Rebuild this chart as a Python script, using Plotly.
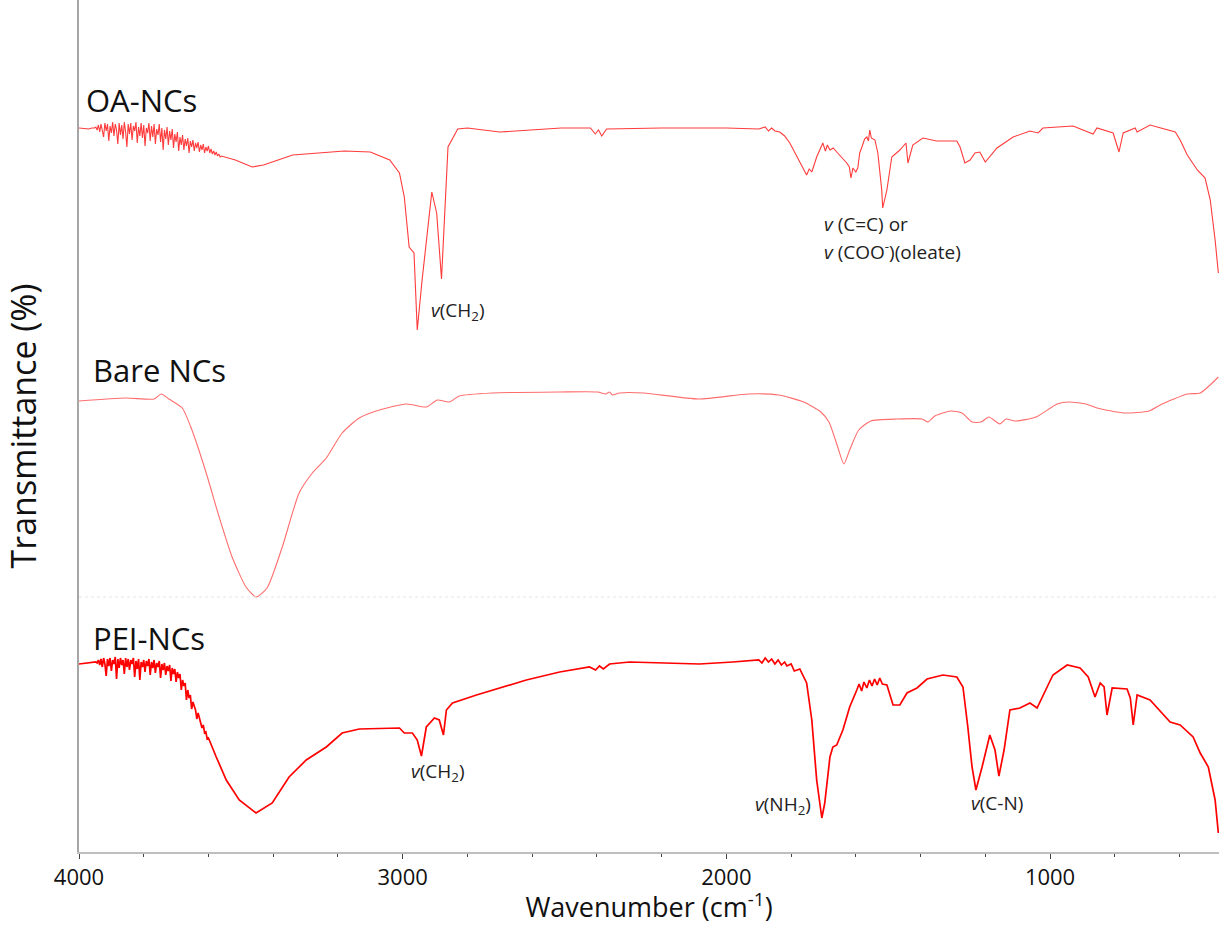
import plotly.graph_objects as go

# ---------------- data: (wavenumber cm-1, transmittance in offset arbitrary units) -------------
oa_points = [
    (4000, 722), (3970, 721), (3960, 722),
    (3952, 722), (3948, 723), (3944, 720), (3940, 725), (3936, 718), (3932, 726), (3928, 721),
    (3924, 713), (3920, 727), (3916, 719), (3912, 726), (3908, 709), (3904, 724), (3900, 717),
    (3896, 728), (3892, 714), (3888, 726), (3884, 720), (3880, 706), (3876, 727), (3872, 715),
    (3868, 725), (3864, 711), (3860, 728), (3856, 718), (3852, 703), (3848, 726), (3844, 716),
    (3840, 727), (3836, 710), (3832, 724), (3828, 719), (3824, 728), (3820, 707), (3816, 723),
    (3812, 714), (3808, 727), (3804, 712), (3800, 725), (3796, 704), (3792, 722), (3788, 717),
    (3784, 727), (3780, 709), (3776, 724), (3772, 713), (3768, 726), (3764, 706), (3760, 721),
    (3756, 715), (3752, 726), (3748, 708), (3744, 722), (3740, 700), (3736, 720), (3732, 711),
    (3728, 723), (3724, 705), (3720, 719), (3716, 710), (3712, 721), (3708, 702), (3704, 716),
    (3700, 708), (3696, 718), (3692, 699), (3688, 713), (3684, 705), (3680, 715), (3676, 700),
    (3672, 711), (3668, 704), (3664, 712), (3660, 697), (3656, 709), (3652, 703), (3648, 710),
    (3644, 699), (3640, 707), (3636, 702), (3632, 708), (3628, 698), (3624, 705), (3620, 700),
    (3616, 706), (3612, 697), (3608, 703), (3604, 699), (3600, 704), (3596, 697), (3592, 701),
    (3588, 696), (3584, 699), (3580, 695), (3576, 698), (3572, 694), (3568, 696), (3564, 693),
    (3560, 694), (3517, 690), (3465, 683), (3430, 685), (3340, 695), (3250, 697), (3180, 699),
    (3100, 698), (3040, 690), (3010, 677), (2995, 653), (2980, 603), (2965, 597), (2955, 520),
    (2940, 570), (2910, 658), (2895, 637), (2880, 571), (2870, 637), (2860, 703), (2830, 721),
    (2800, 722), (2700, 718), (2610, 720), (2510, 722), (2420, 722), (2405, 716), (2395, 720),
    (2385, 714), (2370, 721), (2200, 722), (2000, 722), (1900, 721), (1880, 723), (1870, 719),
    (1860, 722), (1850, 719), (1835, 718), (1820, 714), (1804, 707), (1782, 693), (1767, 683),
    (1752, 675), (1744, 681), (1736, 678), (1721, 693), (1710, 701), (1702, 707), (1694, 699),
    (1688, 705), (1680, 700), (1670, 702), (1659, 698), (1645, 693), (1628, 687), (1620, 683),
    (1615, 672), (1609, 682), (1600, 678), (1594, 682), (1588, 697), (1580, 704), (1573, 711),
    (1566, 713), (1561, 709), (1557, 720), (1552, 712), (1541, 710), (1532, 697), (1520, 660),
    (1517, 642), (1504, 660), (1489, 693), (1464, 700), (1445, 707), (1439, 687), (1424, 705),
    (1393, 712), (1350, 709), (1288, 709), (1278, 703), (1263, 687), (1247, 690), (1232, 697),
    (1217, 698), (1200, 688), (1164, 702), (1114, 713), (1062, 719), (1037, 717), (1022, 722),
    (929, 724), (898, 720), (867, 716), (855, 722), (805, 717), (787, 698), (774, 717),
    (737, 722), (731, 718), (691, 725), (670, 723), (613, 718), (598, 710), (576, 695),
    (545, 680), (521, 672), (505, 650), (490, 610), (480, 577),
]

bare_points = [
    (4000, 449), (3855, 452), (3768, 451), (3746, 456), (3722, 451), (3681, 442), (3651, 420),
    (3607, 377), (3567, 333), (3527, 293), (3484, 263), (3453, 253), (3419, 262), (3372, 303),
    (3320, 357), (3279, 377), (3236, 392), (3187, 417), (3134, 432), (3072, 440), (2989, 446),
    (2927, 443), (2893, 450), (2856, 448), (2825, 454), (2723, 457), (2515, 458), (2398, 458),
    (2373, 456), (2361, 458), (2352, 455), (2330, 457), (2256, 457), (2086, 451), (1931, 456),
    (1838, 455), (1761, 448), (1708, 438), (1683, 428), (1656, 403), (1637, 386), (1619, 400),
    (1591, 420), (1554, 429), (1473, 431), (1396, 431), (1377, 428), (1356, 434), (1306, 439),
    (1272, 437), (1241, 428), (1213, 428), (1189, 433), (1155, 426), (1136, 431), (1108, 429),
    (1043, 433), (978, 446), (941, 448), (889, 446), (855, 442), (771, 437), (694, 439),
    (654, 446), (576, 456), (536, 457), (480, 473),
]

pei_points = [
    (4000, 186), (3960, 188), (3948, 188),
    (3944, 187), (3940, 190), (3936, 185), (3932, 191), (3928, 183), (3924, 192), (3920, 186),
    (3916, 174), (3912, 191), (3908, 184), (3904, 192), (3900, 179), (3896, 190), (3892, 186),
    (3888, 193), (3884, 171), (3880, 191), (3876, 182), (3872, 192), (3868, 185), (3864, 190),
    (3860, 176), (3856, 192), (3852, 183), (3848, 191), (3844, 180), (3840, 190), (3836, 186),
    (3832, 192), (3828, 173), (3824, 189), (3820, 181), (3816, 191), (3812, 170), (3808, 188),
    (3804, 183), (3800, 190), (3796, 178), (3792, 189), (3788, 184), (3784, 191), (3780, 175),
    (3776, 188), (3772, 182), (3768, 190), (3764, 177), (3760, 187), (3756, 183), (3752, 189),
    (3748, 172), (3744, 186), (3740, 180), (3736, 187), (3732, 175), (3728, 184), (3724, 179),
    (3720, 185), (3716, 169), (3712, 182), (3708, 176), (3704, 181), (3700, 168), (3696, 178),
    (3692, 172), (3688, 176), (3684, 160), (3680, 170), (3676, 164), (3672, 167), (3668, 150),
    (3664, 160), (3660, 152), (3656, 155), (3652, 141), (3648, 148), (3644, 143), (3640, 140),
    (3636, 131), (3632, 137), (3628, 132), (3624, 128), (3620, 122), (3616, 125), (3612, 117),
    (3608, 118), (3604, 111), (3600, 112), (3592, 105), (3576, 93), (3545, 70), (3505, 50),
    (3453, 37), (3403, 47), (3351, 73), (3298, 90), (3236, 103), (3187, 117), (3134, 121),
    (3010, 122), (2995, 117), (2970, 117), (2955, 110), (2942, 94), (2927, 123), (2902, 132),
    (2887, 130), (2874, 115), (2865, 140), (2846, 147), (2772, 155), (2618, 170), (2515, 178),
    (2423, 183), (2404, 180), (2392, 184), (2380, 181), (2361, 186), (2299, 188), (2083, 186),
    (1980, 188), (1900, 190), (1890, 187), (1880, 192), (1870, 188), (1860, 191), (1850, 186),
    (1840, 190), (1830, 185), (1820, 188), (1813, 184), (1800, 186), (1790, 179), (1773, 181),
    (1752, 167), (1736, 130), (1721, 70), (1705, 32), (1696, 47), (1680, 93), (1671, 103),
    (1659, 105), (1640, 120), (1619, 143), (1597, 160), (1590, 166), (1582, 159), (1575, 168),
    (1566, 162), (1558, 170), (1550, 164), (1542, 171), (1534, 165), (1526, 172), (1518, 166),
    (1504, 165), (1485, 145), (1464, 145), (1442, 157), (1411, 162), (1380, 171), (1331, 175),
    (1288, 173), (1269, 163), (1254, 123), (1241, 83), (1229, 60), (1210, 83), (1186, 115),
    (1170, 100), (1158, 74), (1142, 100), (1124, 140), (1093, 142), (1062, 147), (1040, 142),
    (1009, 163), (991, 175), (947, 185), (907, 182), (882, 173), (861, 153), (845, 167),
    (833, 163), (824, 135), (808, 162), (762, 161), (752, 152), (743, 125), (731, 155),
    (691, 150), (629, 128), (598, 125), (558, 113), (536, 97), (511, 83), (490, 50), (480, 17),
]

oa_wn = [p[0] for p in oa_points]
oa_t = [p[1] for p in oa_points]
bare_wn = [p[0] for p in bare_points]
bare_t = [p[1] for p in bare_points]
pei_wn = [p[0] for p in pei_points]
pei_t = [p[1] for p in pei_points]

x_ticks = [4000, 3000, 2000, 1000]
x_tick_labels = ["4000", "3000", "2000", "1000"]
series_labels = ["OA-NCs", "Bare NCs", "PEI-NCs"]

FONT = "Open Sans, Noto Sans, sans-serif"

# ---------------- figure -------------
fig = go.Figure()
fig.add_trace(go.Scatter(x=oa_wn, y=oa_t, mode="lines", name=series_labels[0],
                         line=dict(color="rgba(255,25,25,0.85)", width=1.1)))
fig.add_trace(go.Scatter(x=bare_wn, y=bare_t, mode="lines", name=series_labels[1],
                         line=dict(color="rgba(255,60,60,0.75)", width=1.1, shape="spline", smoothing=0.6)))
fig.add_trace(go.Scatter(x=pei_wn, y=pei_t, mode="lines", name=series_labels[2],
                         line=dict(color="#FF0000", width=1.7)))

# faint separator at the bottom of the Bare NCs band
fig.add_hline(y=min(bare_t), line=dict(color="#E4E4E4", width=1, dash="dot"))

lab_font = dict(family=FONT, size=31, color="#111")
ann_font = dict(family=FONT, size=19, color="#222")

labels = [
    (3985, 750, series_labels[0], lab_font),
    (3963, 480, series_labels[1], lab_font),
    (3963, 212, series_labels[2], lab_font),
    (2918, 539, "<i>v</i>(CH<sub>2</sub>)", ann_font),
    (1705, 626, "<i>v</i> (C=C) or", ann_font),
    (1705, 599, "<i>v</i> (COO<sup>-</sup>)(oleate)", ann_font),
    (2979, 78, "<i>v</i>(CH<sub>2</sub>)", ann_font),
    (1918, 45, "<i>v</i>(NH<sub>2</sub>)", ann_font),
    (1250, 47, "<i>v</i>(C-N)", ann_font),
]
for x, y, t, f in labels:
    fig.add_annotation(x=x, y=y, text=t, showarrow=False, xanchor="left", yanchor="middle", font=f)

fig.update_layout(
    width=1219, height=925,
    margin=dict(l=79, r=0, t=0, b=73),
    paper_bgcolor="white", plot_bgcolor="white",
    showlegend=False,
    font=dict(family=FONT, color="#111"),
)
fig.update_xaxes(
    range=[4000, 478], tickvals=x_ticks, ticktext=x_tick_labels,
    automargin=False,
    showgrid=False, zeroline=False,
    showline=True, linecolor="#BFBFBF", linewidth=2,
    ticks="outside", ticklen=5, tickcolor="#444", tickwidth=1,
    minor=dict(dtick=200, tick0=4000, ticks="outside", ticklen=3, tickcolor="#444", showgrid=False),
    tickfont=dict(size=22, family=FONT, color="#111"),
    title=dict(text="Wavenumber (cm<sup>-1</sup>)", font=dict(size=27, family=FONT, color="#111"), standoff=6),
)
fig.update_yaxes(
    range=[-2, 850], showticklabels=False, ticks="",
    automargin=False,
    showgrid=False, zeroline=False,
    showline=True, linecolor="#A6A6A6", linewidth=1.5,
    title=dict(text="Transmittance (%)", font=dict(size=34, family=FONT, color="#111"), standoff=30),
)

fig.write_html(
    "out.html",
    config={"displayModeBar": False},
    post_script="document.body.style.margin='0';document.body.style.overflow='hidden';window.dispatchEvent(new Event('resize'));",
)
